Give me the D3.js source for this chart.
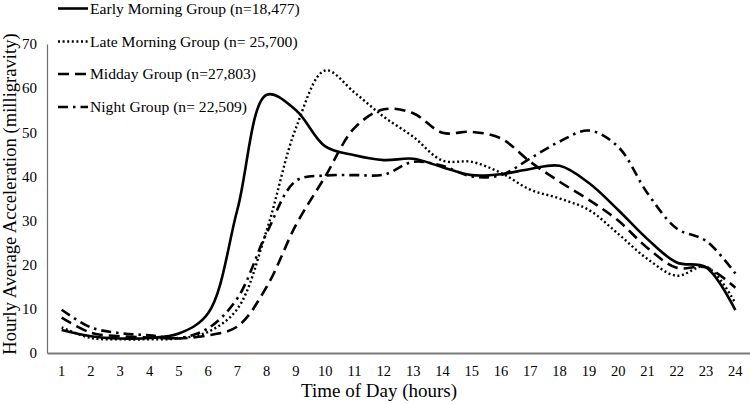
<!DOCTYPE html>
<html>
<head>
<meta charset="utf-8">
<script src="https://cdn.jsdelivr.net/npm/d3@7"></script>
<style>
  html, body { margin: 0; padding: 0; background: #fff; }
  svg { display: block; }
</style>
</head>
<body>
<svg id="chart" width="750" height="404"></svg>
<script>
const hours = [1,2,3,4,5,6,7,8,9,10,11,12,13,14,15,16,17,18,19,20,21,22,23,24];
const yTicks = [0,10,20,30,40,50,60,70];

const seriesNames = [
  "Early Morning Group (n=18,477)",
  "Late Morning Group (n= 25,700)",
  "Midday Group (n=27,803)",
  "Night Group (n= 22,509)"
];

const earlyMorning = [5.2,3.8,3.3,3.4,4.4,9.0,32.5,58.5,55.0,46.8,44.8,43.7,44.0,42.1,40.3,40.5,41.7,42.4,38.5,32.4,25.8,20.5,19.4,9.7];
const lateMorning  = [5.8,3.4,3.1,3.1,3.3,4.8,10.0,27.8,51.0,64.0,59.0,53.5,49.0,43.6,43.3,40.8,37.0,35.0,32.4,27.0,21.3,17.5,19.6,11.3];
const midday       = [8.0,4.6,3.8,3.5,3.3,4.0,6.0,15.0,29.0,40.0,51.0,55.2,54.3,49.9,50.1,48.6,43.3,38.8,34.7,30.0,23.8,19.3,19.4,14.8];
const night        = [9.8,5.8,4.5,4.0,3.4,5.6,12.4,27.2,39.0,40.2,40.3,40.4,43.3,42.4,40.0,40.3,44.1,47.9,50.4,46.7,36.2,28.2,25.4,18.0];

const seriesValues = [earlyMorning, lateMorning, midday, night];
const dashStyles = [null, "2,2.6", "11,6", "10,5,2.5,5"];
const strokeWidths = [2.6, 2.4, 2.6, 2.6];

const svg = d3.select("#chart");
const margin = {left: 47, right: 0, top: 44, bottom: 51};
const W = 750, H = 404;
const serif = "Liberation Serif";

const x = d3.scaleBand().domain(hours).range([margin.left, W - margin.right]);
const y = d3.scaleLinear().domain([0, 70]).range([H - margin.bottom, margin.top]);
const cx = h => x(h) + x.bandwidth() / 2;

// Y axis
const yAxis = svg.append("g")
  .attr("transform", `translate(${margin.left},0)`)
  .call(d3.axisLeft(y).tickValues(yTicks).tickSize(0).tickPadding(10));
yAxis.attr("font-family", serif);
yAxis.select(".domain").attr("stroke", "#6e6e6e").attr("stroke-width", 1.2);
yAxis.selectAll("text").attr("font-size", 15).attr("fill", "#000").attr("font-family", serif);

// X axis
const xAxis = svg.append("g")
  .attr("transform", `translate(0,${y(0)})`)
  .call(d3.axisBottom(x).tickSize(0).tickPadding(13));
xAxis.attr("font-family", serif);
xAxis.select(".domain").attr("stroke", "#7a7a7a").attr("stroke-width", 2);
xAxis.selectAll("text").attr("font-size", 14.5).attr("fill", "#000").attr("font-family", serif);

// Axis titles
svg.append("text")
  .attr("x", 379).attr("y", 397)
  .attr("text-anchor", "middle").attr("font-size", 19)
  .attr("font-family", serif)
  .text("Time of Day (hours)");

svg.append("text")
  .attr("transform", `translate(16,194) rotate(-90)`)
  .attr("text-anchor", "middle").attr("font-size", 18.6)
  .attr("font-family", serif)
  .text("Hourly Average Acceleration (milligravity)");

// Lines
const line = d3.line()
  .x((d, i) => cx(hours[i]))
  .y(d => y(d))
  .curve(d3.curveCatmullRom.alpha(0.5));

seriesValues.forEach((vals, i) => {
  svg.append("path")
    .datum(vals)
    .attr("d", line)
    .attr("fill", "none")
    .attr("stroke", "#000")
    .attr("stroke-width", strokeWidths[i])
    .attr("stroke-dasharray", dashStyles[i])
    .attr("stroke-linejoin", "round");
});

// Legend
const legendRowsY = [8.5, 41.5, 74, 107];
const leg = svg.append("g");
seriesNames.forEach((name, i) => {
  const ly = legendRowsY[i];
  leg.append("line")
    .attr("x1", 58).attr("x2", 88).attr("y1", ly).attr("y2", ly)
    .attr("stroke", "#000").attr("stroke-width", strokeWidths[i])
    .attr("stroke-dasharray", dashStyles[i]);
  leg.append("text")
    .attr("x", 90).attr("y", ly).attr("dy", "0.35em")
    .attr("font-size", 15.6)
    .attr("font-family", serif)
    .text(name);
});
</script>
</body>
</html>
